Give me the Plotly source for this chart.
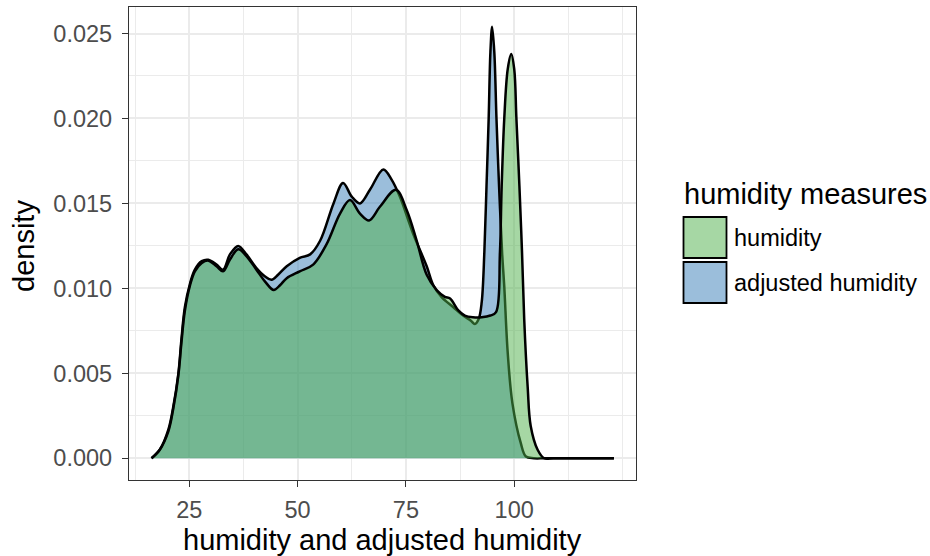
import plotly.graph_objects as go

# ---- data (density estimates) ----
adj_x = [16.3, 18.2, 20.2, 21.3, 22.5, 23.2, 24.0, 25.2, 26.3, 27.9, 29.4, 31.3, 32.8, 34.4,
         36.3, 38.2, 40.5, 42.5, 44.0, 45.5, 47.5, 50.5, 52.9, 55.2, 58.3, 60.5, 62.5, 64.4,
         66.7, 69.8, 71.7, 73.6, 76.7, 79.8, 81.3, 83.2, 85.9, 88.2, 90.0, 90.9, 91.8, 92.5,
         93.1, 93.6, 94.1, 94.5, 94.9, 95.4, 95.9, 96.5, 97.2, 97.7, 98.5, 99.6, 101.5, 102.7,
         104.5, 107.0, 112.0, 118.0, 123.0]
adj_y = [0.0, 0.0005, 0.0017, 0.0030, 0.0050, 0.0070, 0.0089, 0.0103, 0.0111, 0.0116, 0.01168,
         0.0114, 0.0111, 0.0120, 0.0125, 0.0120, 0.0112, 0.0107, 0.0105, 0.0108, 0.0113, 0.0118,
         0.0120, 0.0128, 0.0150, 0.0162, 0.0154, 0.0150, 0.0158, 0.0170, 0.0164, 0.0154, 0.0132,
         0.0113, 0.0102, 0.0095, 0.0089, 0.0084, 0.0081, 0.0079, 0.0082, 0.0092, 0.0121, 0.0160,
         0.0200, 0.0239, 0.0254, 0.0239, 0.0200, 0.0160, 0.0121, 0.0101, 0.0062, 0.0032, 0.0009,
         0.0001, 0.0, 0.0, 0.0, 0.0, 0.0]

hum_x = [16.3, 18.2, 20.2, 21.3, 22.5, 23.2, 24.0, 25.2, 26.3, 27.9, 29.4, 31.3, 32.8, 34.4,
         36.3, 38.2, 40.5, 42.5, 44.5, 46.0, 47.5, 50.5, 53.6, 56.7, 59.8, 62.1, 64.4, 66.5,
         69.0, 72.7, 75.2, 77.5, 79.8, 82.1, 84.0, 85.2, 87.1, 88.6, 90.5, 92.5, 94.5, 95.8,
         96.7, 97.1, 97.7, 98.5, 99.3, 100.0, 100.5, 101.2, 101.8, 102.3, 103.1, 103.8, 105.4,
         106.9, 109.0, 114.0, 118.0, 123.0]
hum_y = [0.0, 0.0005, 0.0016, 0.0029, 0.0049, 0.0068, 0.0087, 0.0102, 0.0110, 0.0115, 0.01163,
         0.0113, 0.0110, 0.0117, 0.0123, 0.0119, 0.0111, 0.0104, 0.0099, 0.0102, 0.0106, 0.0110,
         0.0114, 0.0126, 0.0144, 0.0152, 0.0144, 0.0140, 0.0148, 0.0158, 0.0146, 0.0128, 0.0108,
         0.0099, 0.0095, 0.0094, 0.0087, 0.0084, 0.0083, 0.0083, 0.0084, 0.0086, 0.0121, 0.0160,
         0.0200, 0.0229, 0.0238, 0.0229, 0.0200, 0.0160, 0.0121, 0.0082, 0.0042, 0.0019, 0.0005,
         0.0, 0.0, 0.0, 0.0, 0.0]

x_ticks = [25, 50, 75, 100]
y_ticks = [0.0, 0.005, 0.010, 0.015, 0.020, 0.025]
y_ticktext = ["0.000", "0.005", "0.010", "0.015", "0.020", "0.025"]
legend_title = "humidity measures"
series_names = ["humidity", "adjusted humidity"]

GREEN = "rgba(77,175,74,0.5)"
BLUE = "rgba(55,126,184,0.5)"
FONT = "Liberation Sans, Arial, sans-serif"
LABEL_SIZE = 23.5
TITLE_SIZE = 29

fig = go.Figure()
fig.add_trace(go.Scatter(x=adj_x, y=adj_y, mode="lines", fill="tozeroy", fillcolor=BLUE,
                         line=dict(color="black", width=2.5, shape="spline", smoothing=1.0),
                         name=series_names[1], showlegend=False))
fig.add_trace(go.Scatter(x=hum_x, y=hum_y, mode="lines", fill="tozeroy", fillcolor=GREEN,
                         line=dict(color="black", width=2.5, shape="spline", smoothing=1.0),
                         name=series_names[0], showlegend=False))

# geometry (pixels)
L, R, T, B = 129, 636, 7, 480
W, H = 930, 556
pw, ph = R - L, B - T

def px(xp):
    return (xp - L) / pw

def py(yp):
    return (B - yp) / ph

axis_common = dict(
    showline=True, mirror=True, linecolor="#333333", linewidth=1.3,
    ticks="outside", ticklen=6, tickwidth=1.2, tickcolor="#333333",
    tickfont=dict(family=FONT, size=LABEL_SIZE, color="#4d4d4d"),
    showgrid=True, gridcolor="#ebebeb", gridwidth=1.6, zeroline=False,
)

fig.update_layout(
    width=W, height=H,
    margin=dict(l=L, r=W - R, t=T, b=H - B, autoexpand=False),
    paper_bgcolor="white", plot_bgcolor="white",
    showlegend=False,
    font=dict(family=FONT),
    xaxis=dict(range=[11.1, 128.1], tickvals=x_ticks, ticktext=[str(v) for v in x_ticks],
               ticklabelstandoff=3,
               minor=dict(tickvals=[12.5, 37.5, 62.5, 87.5, 112.5, 125], showgrid=True,
                          gridcolor="#ebebeb", gridwidth=0.8, ticks=""),
               **axis_common),
    yaxis=dict(range=[-0.00128, 0.02656], tickvals=y_ticks, ticktext=y_ticktext,
               ticklabelstandoff=5,
               minor=dict(tickvals=[0.0025, 0.0075, 0.0125, 0.0175, 0.0225], showgrid=True,
                          gridcolor="#ebebeb", gridwidth=0.8, ticks=""),
               **axis_common),
)

annotations = [
    dict(text="humidity and adjusted humidity", x=px(382.5), y=py(540), xref="paper", yref="paper",
         showarrow=False, xanchor="center", yanchor="middle", font=dict(family=FONT, size=TITLE_SIZE, color="black")),
    dict(text="density", x=px(24), y=py(246), xref="paper", yref="paper", textangle=-90,
         showarrow=False, xanchor="center", yanchor="middle", font=dict(family=FONT, size=TITLE_SIZE, color="black")),
    dict(text=legend_title, x=px(682), y=py(194), xref="paper", yref="paper",
         showarrow=False, xanchor="left", yanchor="middle", font=dict(family=FONT, size=TITLE_SIZE, color="black")),
    dict(text=series_names[0], x=px(732), y=py(238), xref="paper", yref="paper",
         showarrow=False, xanchor="left", yanchor="middle", font=dict(family=FONT, size=LABEL_SIZE, color="black")),
    dict(text=series_names[1], x=px(732), y=py(283), xref="paper", yref="paper",
         showarrow=False, xanchor="left", yanchor="middle", font=dict(family=FONT, size=LABEL_SIZE, color="black")),
]
fig.update_layout(annotations=annotations)

shapes = [
    dict(type="rect", xref="paper", yref="paper", x0=px(683.5), x1=px(726.5), y0=py(258), y1=py(217),
         fillcolor=GREEN, line=dict(color="black", width=1.8)),
    dict(type="rect", xref="paper", yref="paper", x0=px(683.5), x1=px(726.5), y0=py(303), y1=py(262),
         fillcolor=BLUE, line=dict(color="black", width=1.8)),
]
fig.update_layout(shapes=shapes)

fig.write_html("out.html")
